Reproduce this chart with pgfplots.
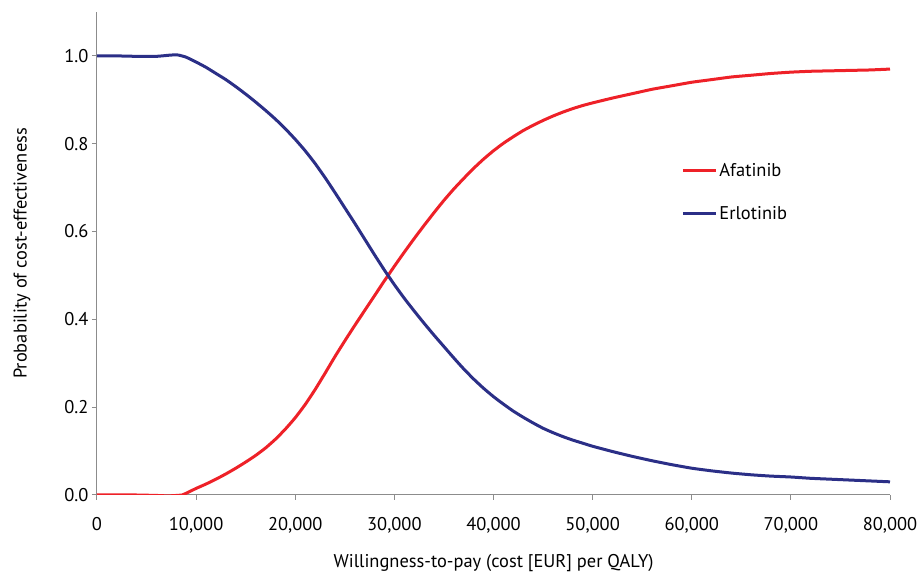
\documentclass[border=0pt]{standalone}
\usepackage{fontspec}
\setmainfont{PT Sans}
\usepackage{pgfplots}
\pgfplotsset{compat=1.18}
\definecolor{afared}{HTML}{EE2128}
\definecolor{erlblue}{HTML}{2B2F87}
\definecolor{axgray}{HTML}{8C8C8C}

\begin{document}
\begin{tikzpicture}
\begin{axis}[
    width=793bp, height=483bp, scale only axis,
    xmin=0, xmax=80000, ymin=0, ymax=1.1,
    axis lines=left,
    axis line style={axgray, line width=1bp, -},
    tick style={axgray, line width=1bp},
    tick align=outside, major tick length=5bp,
    xtick={0,10000,20000,30000,40000,50000,60000,70000,80000},
    ytick={0,0.2,0.4,0.6,0.8,1.0},
    scaled x ticks=false,
    /pgf/number format/assume math mode=true,
    xticklabel={\pgfmathprintnumber[fixed,1000 sep={,}]{\tick}},
    yticklabel={\pgfmathprintnumber[fixed,fixed zerofill,precision=1]{\tick}},
    ticklabel style={font=\fontsize{18.5}{20}\selectfont},
    xticklabel style={yshift=-14bp},
    label style={font=\fontsize{18.5}{20}\selectfont},
    xlabel={Willingness-to-pay (cost [EUR] per QALY)},
    ylabel={Probability of cost-effectiveness},
    xlabel style={at={([yshift=-68bp]rel axis cs:0.5,0)}, anchor=center},
    ylabel style={at={([xshift=-75bp]rel axis cs:0,0.5)}, anchor=center},
    legend style={at={(rel axis cs:0.733,0.627)}, anchor=west,
        draw=none, fill=none, font=\fontsize{18.5}{20}\selectfont,
        row sep=24bp},
    legend cell align=left,
    legend image code/.code={\draw[#1] (0bp,0bp) -- (33bp,0bp);},
]
\coordinate (sw) at (rel axis cs:0,0);
\coordinate (ne) at (rel axis cs:1,1);
\addplot[afared, line width=3bp, smooth, tension=0.3] table {
x y
0 0
2000 0
4000 0
6000 -0.001
7200 -0.002
8600 0
9000 0.004
10000 0.015
11000 0.025
12000 0.036
13000 0.048
14000 0.061
15000 0.075
16000 0.090
17000 0.107
18000 0.127
19000 0.150
20000 0.176
21000 0.206
22000 0.240
23000 0.277
24000 0.315
25000 0.351
26000 0.386
27000 0.420
28000 0.454
29000 0.488
30000 0.521
31000 0.553
32000 0.584
33000 0.614
34000 0.643
35000 0.671
36000 0.697
37000 0.721
38000 0.744
39000 0.765
40000 0.784
41000 0.801
42000 0.816
43000 0.830
44000 0.842
45000 0.853
46000 0.863
47000 0.872
48000 0.880
49000 0.887
50000 0.893
52000 0.904
54000 0.914
56000 0.924
58000 0.932
60000 0.940
62000 0.946
64000 0.952
66000 0.956
68000 0.960
70000 0.963
72000 0.965
74000 0.966
76000 0.967
78000 0.968
80000 0.970
};
\addlegendentry{Afatinib}
\addplot[erlblue, line width=3bp, smooth, tension=0.3] table {
x y
0 1.0
2000 1.0
4000 0.999
6000 0.999
7500 1.002
8200 1.002
9000 0.997
10000 0.986
11000 0.974
12000 0.960
13000 0.946
14000 0.930
15000 0.913
16000 0.895
17000 0.876
18000 0.856
19000 0.834
20000 0.810
21000 0.784
22000 0.755
23000 0.723
24000 0.689
25000 0.654
26000 0.619
27000 0.583
28000 0.547
29000 0.512
30000 0.479
31000 0.448
32000 0.419
33000 0.391
34000 0.364
35000 0.338
36000 0.312
37000 0.287
38000 0.264
39000 0.243
40000 0.224
41000 0.207
42000 0.191
43000 0.177
44000 0.164
45000 0.152
46000 0.142
47000 0.133
48000 0.125
49000 0.118
50000 0.111
52000 0.099
54000 0.088
56000 0.078
58000 0.069
60000 0.061
62000 0.055
64000 0.050
66000 0.046
68000 0.043
70000 0.041
72000 0.038
74000 0.036
76000 0.034
78000 0.032
80000 0.030
};
\addlegendentry{Erlotinib}
\end{axis}
\path (sw) ++(-97bp,-81bp);
\path (ne) ++(33bp,12bp);
\end{tikzpicture}
\end{document}
